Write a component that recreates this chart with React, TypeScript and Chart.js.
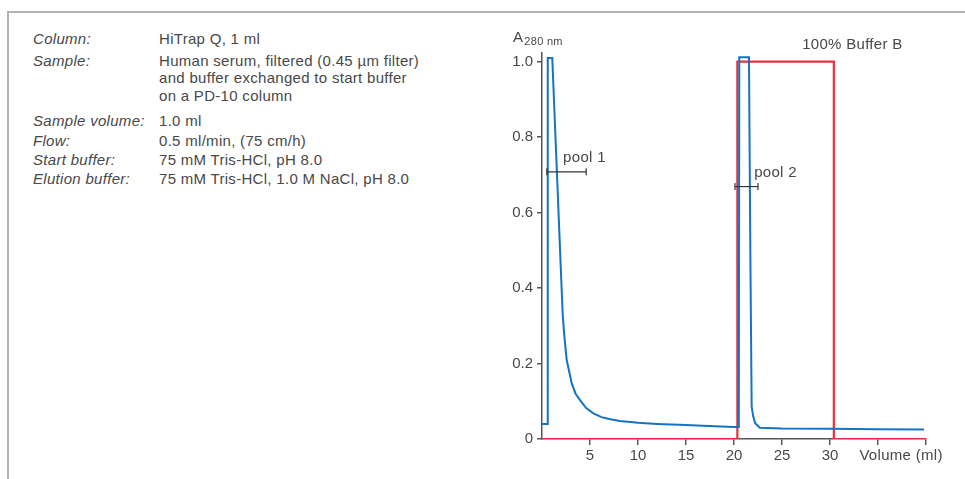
import React, { useEffect, useRef } from "react";
import { Chart, registerables } from "chart.js";

Chart.register(...registerables);

// ---------- data ----------
const specLabels = ["Column:", "Sample:", "Sample volume:", "Flow:", "Start buffer:", "Elution buffer:"];
const specValues = [
  ["HiTrap Q, 1 ml"],
  ["Human serum, filtered (0.45 µm filter)", "and buffer exchanged to start buffer", "on a PD-10 column"],
  ["1.0 ml"],
  ["0.5 ml/min, (75 cm/h)"],
  ["75 mM Tris-HCl, pH 8.0"],
  ["75 mM Tris-HCl, 1.0 M NaCl, pH 8.0"],
];

// UV absorbance trace (A280)
const uvVolume = [0, 0.55, 0.6, 1.07, 1.95, 2.15, 2.3, 2.57, 3.09, 3.5, 3.96, 4.6, 5.35, 6.2, 7.0, 8.1, 10, 12, 15, 18, 20, 20.5, 20.55, 21.56, 21.7, 21.84, 22.0, 22.2, 22.7, 25, 30, 35, 39.8];
const uvAbs = [0.04, 0.04, 1.01, 1.01, 0.457, 0.333, 0.28, 0.21, 0.148, 0.12, 0.103, 0.082, 0.068, 0.058, 0.053, 0.048, 0.043, 0.04, 0.037, 0.034, 0.032, 0.032, 1.012, 1.012, 0.5, 0.086, 0.06, 0.042, 0.03, 0.028, 0.027, 0.026, 0.025];

// Buffer B gradient (percent)
const bufVolume = [0, 20.35, 20.35, 30.4, 30.4, 40];
const bufPercent = [0, 0, 100, 100, 0, 0];

// Pools
const poolNames = ["pool 1", "pool 2"];
const poolStart = [0.5, 20.1];
const poolEnd = [4.6, 22.5];
const poolLevel = [0.708, 0.669];
const poolLabelX = [2.2, 22.1];

const xLabeledTicks = [5, 10, 15, 20, 25, 30];
const xTitle = "Volume (ml)";
const xTitleAt = 37.4;
const bufferLabel = "100% Buffer B";
const bufferLabelX = 27.1;
const yTitleMain = "A";
const yTitleSub = "280 nm";

// ---------- styles ----------
const FONT = "'Liberation Sans', Arial, sans-serif";
const TEXT = "#484848";
const AXIS = "#555555";
const BLUE = "#1672c2";
const RED = "#e8303a";

const rowCenters = [40, 62, 122, 142, 161, 180];

const annotPlugin = {
  id: "annot",
  afterDatasetsDraw(chart: any) {
    const { ctx, chartArea } = chart;
    const x = chart.scales.x;
    const y = chart.scales.y;
    ctx.save();
    ctx.fillStyle = TEXT;
    ctx.font = `15px ${FONT}`;
    try { (ctx as any).letterSpacing = "0.3px"; } catch (e) {}
    ctx.textAlign = "left";
    ctx.textBaseline = "middle";
    poolNames.forEach((n, i) => {
      ctx.fillText(n, x.getPixelForValue(poolLabelX[i]), y.getPixelForValue(poolLevel[i]) - 14);
    });
    ctx.fillText(bufferLabel, x.getPixelForValue(bufferLabelX), chartArea.top - 8);
    ctx.textAlign = "center";
    ctx.fillText(xTitle, x.getPixelForValue(xTitleAt), chartArea.bottom + 17);
    ctx.textAlign = "left";
    ctx.textBaseline = "alphabetic";
    const ax = chartArea.left - 29;
    ctx.fillText(yTitleMain, ax, chartArea.top - 11);
    const w = ctx.measureText(yTitleMain).width;
    ctx.font = `11px ${FONT}`;
    ctx.fillText(yTitleSub, ax + w + 1, chartArea.top - 8.5);
    ctx.restore();
  },
};

function ChartCanvas() {
  const ref = useRef<HTMLCanvasElement | null>(null);
  useEffect(() => {
    if (!ref.current) return;
    const tickColorX = (c: any) => (c.tick && c.tick.value === 0 ? "rgba(0,0,0,0)" : AXIS);
    const chart = new Chart(ref.current, {
      type: "line",
      data: {
        datasets: [
          {
            label: "A280",
            data: uvVolume.map((v, i) => ({ x: v, y: uvAbs[i] })),
            borderColor: BLUE,
            borderWidth: 2,
            pointRadius: 0,
            tension: 0,
            fill: false,
            order: 1,
          },
          {
            label: "Buffer B",
            data: bufVolume.map((v, i) => ({ x: v, y: bufPercent[i] / 100 })),
            borderColor: RED,
            borderWidth: 2.2,
            pointRadius: 0,
            tension: 0,
            fill: false,
            order: 2,
          },
          ...poolNames.map((n, i) => ({
            label: n,
            data: [
              { x: poolStart[i], y: poolLevel[i] },
              { x: poolEnd[i], y: poolLevel[i] },
            ],
            borderColor: "#333",
            borderWidth: 1.2,
            pointStyle: "line" as const,
            rotation: 90,
            pointRadius: 3.5,
            pointBorderWidth: 1.2,
            pointBorderColor: "#333",
            pointBackgroundColor: "#333",
            tension: 0,
            fill: false,
            order: 0,
          })),
        ],
      },
      options: {
        responsive: false,
        animation: false,
        devicePixelRatio: 1,
        layout: { padding: { left: 0, right: 39, top: 33, bottom: 10 } },
        plugins: { legend: { display: false }, tooltip: { enabled: false } },
        scales: {
          x: {
            type: "linear",
            min: 0,
            max: 40,
            afterFit: (s: any) => { s.height = 30; },
            ticks: {
              stepSize: 5,
              autoSkip: false,
              maxRotation: 0,
              padding: 2,
              color: TEXT,
              font: { size: 15, family: FONT },
              callback: (v: any) => (xLabeledTicks.includes(Number(v)) ? String(v) : ""),
            },
            grid: {
              display: true,
              drawOnChartArea: false,
              drawTicks: true,
              tickLength: 6,
              tickColor: tickColorX,
              tickWidth: 1.5,
              lineWidth: 1.5,
            },
            border: { display: true, color: AXIS, width: 1.5 },
          },
          y: {
            type: "linear",
            min: 0,
            max: 1.023,
            afterFit: (s: any) => { s.width = 52; },
            ticks: {
              stepSize: 0.2,
              includeBounds: false,
              padding: 4,
              color: TEXT,
              font: { size: 15, family: FONT },
              callback: (v: any) => (Math.abs(Number(v)) < 1e-9 ? "0" : Number(v).toFixed(1)),
            },
            grid: {
              display: true,
              drawOnChartArea: false,
              drawTicks: true,
              tickLength: 5,
              tickColor: AXIS,
              tickWidth: 1.5,
              lineWidth: 1.5,
            },
            border: { display: true, color: AXIS, width: 1.5 },
          },
        },
      },
      plugins: [annotPlugin],
    } as any);
    return () => chart.destroy();
  }, []);
  return (
    <canvas
      ref={ref}
      width={475}
      height={459}
      style={{ position: "absolute", left: 490, top: 20, width: 475, height: 459 }}
    />
  );
}

export default function App() {
  const textStyle: React.CSSProperties = {
    fontFamily: FONT,
    fontSize: 15,
    color: TEXT,
    letterSpacing: "0.3px",
    whiteSpace: "nowrap",
  };
  return (
    <div style={{ position: "absolute", left: 0, top: 0, width: 965, height: 479, overflow: "hidden", background: "#fff" }}>
      <div
        style={{
          position: "absolute",
          left: 7,
          top: 11,
          width: 960,
          height: 470,
          borderTop: "2px solid #b3b3b3",
          borderLeft: "2px solid #b3b3b3",
          boxSizing: "border-box",
        }}
      />
      {specLabels.map((lab, i) => (
        <div key={lab} style={{ position: "absolute", left: 0, top: rowCenters[i] - 10.5, ...textStyle }}>
          <div style={{ position: "absolute", left: 33, top: 0, fontStyle: "italic", lineHeight: "18px" }}>{lab}</div>
          <div style={{ position: "absolute", left: 159, top: 0, lineHeight: "17.5px" }}>
            {specValues[i].map((line) => (
              <div key={line}>{line}</div>
            ))}
          </div>
        </div>
      ))}
      <ChartCanvas />
    </div>
  );
}
